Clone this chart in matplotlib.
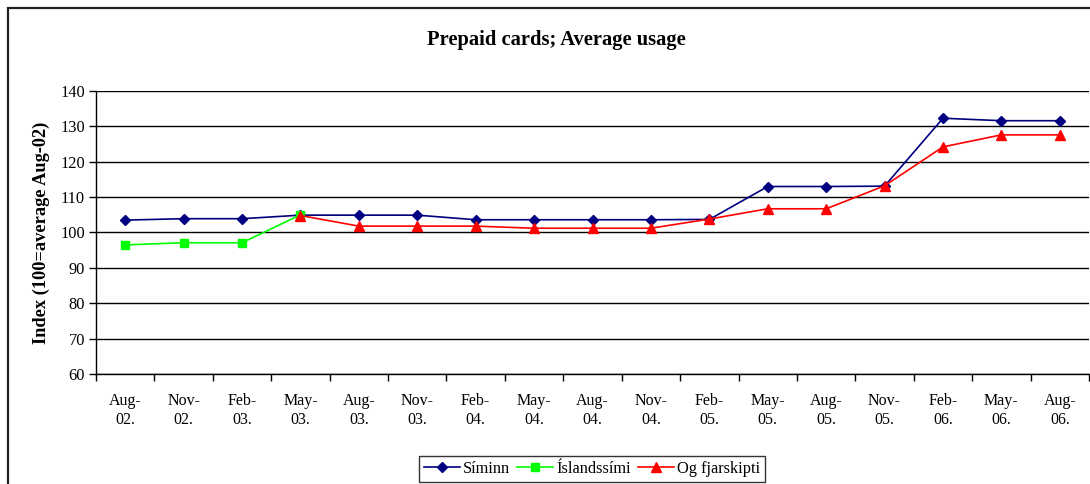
import matplotlib.pyplot as plt
import numpy as np
from matplotlib.patches import Rectangle

plt.rcParams['font.family'] = ['Liberation Serif', 'DejaVu Serif']

months = ["Aug-\n02.", "Nov-\n02.", "Feb-\n03.", "May-\n03.", "Aug-\n03.", "Nov-\n03.",
          "Feb-\n04.", "May-\n04.", "Aug-\n04.", "Nov-\n04.", "Feb-\n05.", "May-\n05.",
          "Aug-\n05.", "Nov-\n05.", "Feb-\n06.", "May-\n06.", "Aug-\n06."]
nan = np.nan
siminn = [103.5, 103.9, 103.9, 104.9, 104.9, 104.9, 103.6, 103.6, 103.6, 103.6,
          103.7, 113.0, 113.0, 113.1, 132.3, 131.6, 131.6]
islandssimi = [96.5, 97.1, 97.1, 105.0, nan, nan, nan, nan, nan, nan,
               nan, nan, nan, nan, nan, nan, nan]
og = [nan, nan, nan, 104.8, 101.8, 101.8, 101.8, 101.2, 101.2, 101.2,
      103.8, 106.7, 106.7, 113.2, 124.2, 127.6, 127.6]

fig = plt.figure(figsize=(10.9, 4.84), dpi=100)
ax = fig.add_axes([0.0881, 0.2273, 0.911, 0.5847])

# outer chart border (cut at right/bottom like the reference)
fig.patches.append(Rectangle((8 / 1090, -0.1), 1.2, 1 - 8 / 484 + 0.1,
                             transform=fig.transFigure, fill=False,
                             edgecolor='#222222', lw=1.6, zorder=0))

x = np.arange(len(months)) + 0.5
ax.plot(x, siminn, '-', color='#000080', marker='D', ms=5, lw=1.2, label='Síminn', zorder=3)
ax.plot(x, islandssimi, '-', color='#00ff00', marker='s', ms=6, lw=1.2, label='Íslandssími', zorder=3)
ax.plot(x, og, '-', color='#ff0000', marker='^', ms=7, lw=1.2, label='Og fjarskipti', zorder=4)

ax.set_xlim(0, len(months))
ax.set_ylim(60, 140)
ax.set_yticks(range(60, 141, 10))
ax.yaxis.grid(True, color='black', lw=1.0)
ax.set_axisbelow(True)

ax.set_xticks(np.arange(len(months) + 1))
ax.set_xticklabels([])
ax.set_xticks(x, minor=True)
ax.set_xticklabels(months, minor=True, fontsize=11.5)
ax.tick_params(axis='x', which='major', direction='out', length=5, width=1)
ax.tick_params(axis='x', which='minor', length=0, pad=14)
ax.tick_params(axis='y', direction='out', length=5, width=1, labelsize=11.8, pad=3)

for s in ['top', 'right']:
    ax.spines[s].set_visible(False)
for s in ['left', 'bottom']:
    ax.spines[s].set_linewidth(1.0)

ax.set_ylabel("Index (100=average Aug-02)", fontsize=13.2, fontweight='bold', labelpad=7)
fig.text(556 / 1090, 1 - 40 / 484, "Prepaid cards; Average usage", ha='center', va='center',
         fontsize=14.8, fontweight='bold')

fig.legend(loc='center', bbox_to_anchor=(592 / 1090, 1 - 469 / 484), ncol=3,
           fontsize=11.8, frameon=True, fancybox=False, edgecolor='black',
           handlelength=2.2, handletextpad=0.2, columnspacing=0.4,
           borderpad=0.3, borderaxespad=0)

fig.savefig("out.png", dpi=100)
